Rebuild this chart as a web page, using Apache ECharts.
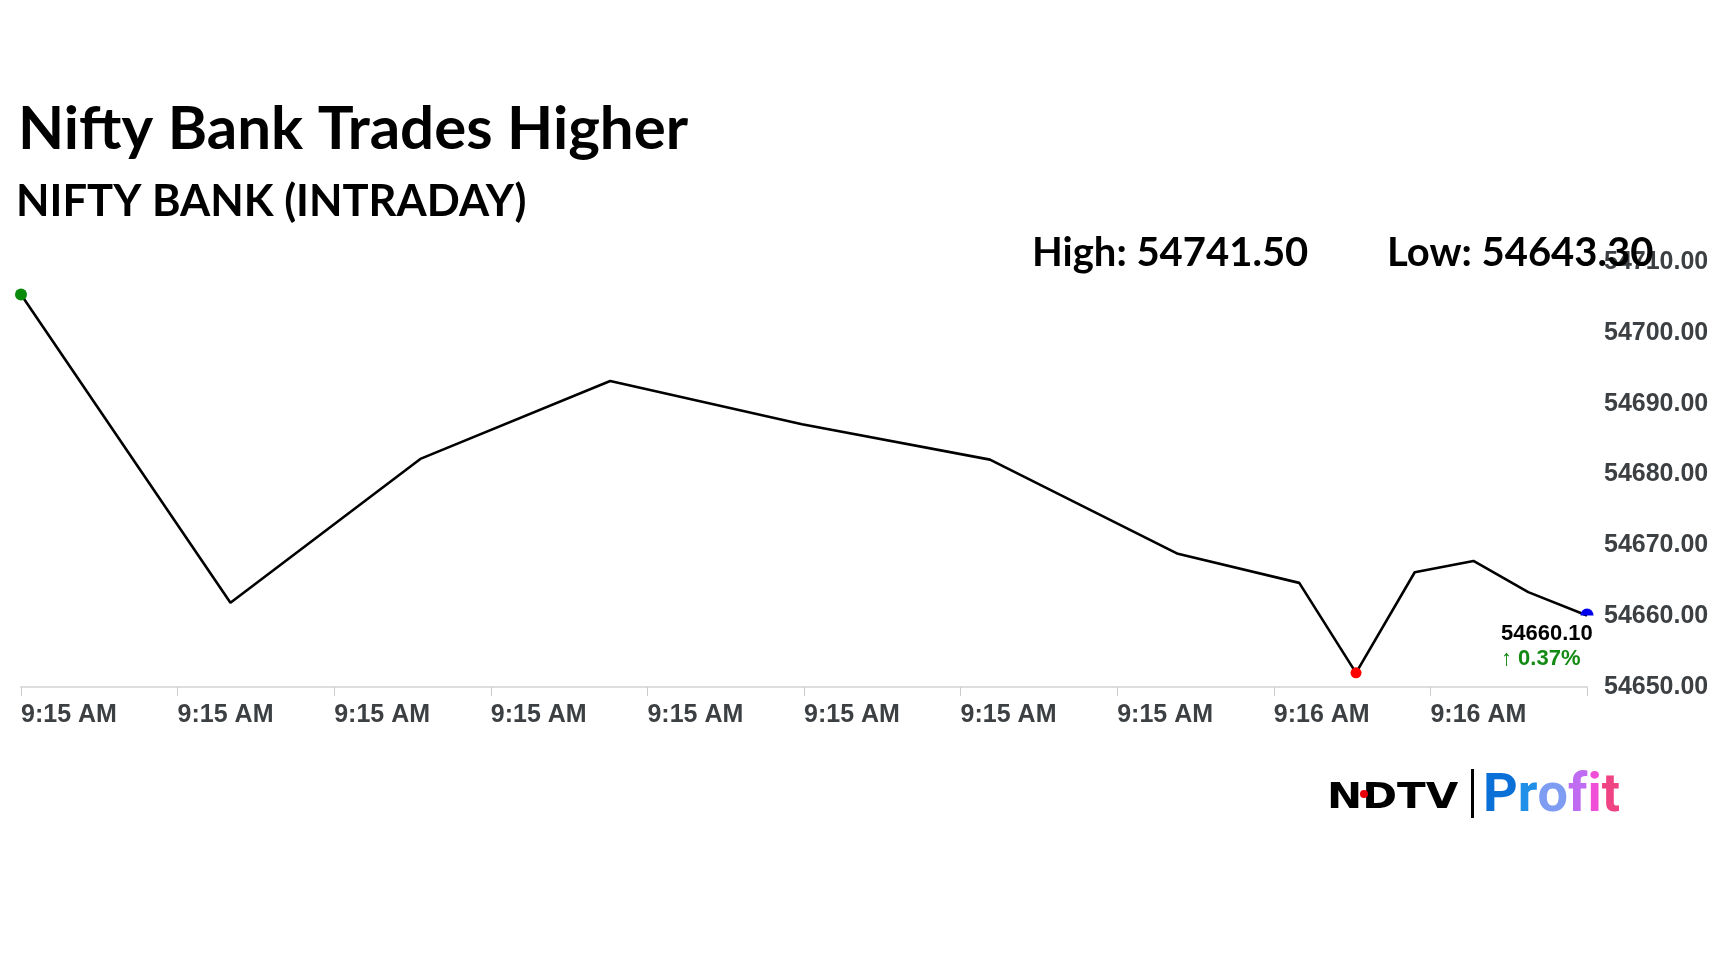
<!DOCTYPE html>
<html>
<head>
<meta charset="utf-8">
<script src="https://cdn.jsdelivr.net/npm/echarts@6/dist/echarts.min.js"></script>
<style>
html,body{margin:0;padding:0;background:#fff;}
#chart{width:1728px;height:972px;}
</style>
</head>
<body>
<div id="chart"></div>
<script>
// ---- data (seconds after 9:15:00, index level) ----
const times = [0, 10.7, 20.4, 30.1, 39.9, 49.5, 59.1, 65.3, 68.2, 71.2, 74.2, 77.0, 80];
const values = [54705.4, 54661.9, 54682.2, 54693.2, 54687.1, 54682.1, 54668.8, 54664.7, 54652.0, 54666.2, 54667.8, 54663.4, 54660.1];
const xTickLabels = ['9:15 AM','9:15 AM','9:15 AM','9:15 AM','9:15 AM','9:15 AM','9:15 AM','9:15 AM','9:16 AM','9:16 AM',''];
const yTicks = [54650, 54660, 54670, 54680, 54690, 54700, 54710];
const titleText = 'Nifty Bank Trades Higher';
const subtitleText = 'NIFTY BANK (INTRADAY)';
const highText = 'High: 54741.50';
const lowText = 'Low: 54643.30';
const lastPriceText = '54660.10';
const changeText = '\u2191 0.37%';
const logoLetters = ['P', 'r', 'o', 'f', 'i', 't'];
const logoColors = ['#0b6fd8', '#1f8fe8', '#7e9cf2', '#c06cf2', '#f04ed6', '#ef4383'];

const chart = echarts.init(document.getElementById('chart'));

let minIdx = 0;
values.forEach((v, i) => { if (v < values[minIdx]) minIdx = i; });
const lastIdx = values.length - 1;

const seriesData = times.map((t, i) => {
  const item = { value: [t, values[i]], symbol: 'none' };
  if (i === 0) {
    item.symbol = 'circle'; item.symbolSize = 12;
    item.itemStyle = { color: '#0a8a0a' };
  } else if (i === minIdx) {
    item.symbol = 'circle'; item.symbolSize = 11;
    item.itemStyle = { color: '#ff0000' };
  } else if (i === lastIdx) {
    item.symbol = 'path://M0,10 A10,10 0 0 1 20,10 Z';
    item.symbolSize = [13, 7];
    item.symbolOffset = [0, '-50%'];
    item.itemStyle = { color: '#0000ee' };
    item.label = {
      show: true,
      position: 'bottom',
      distance: 6,
      align: 'left',
      offset: [-86, 0],
      formatter: '{a|' + lastPriceText + '}\n{b|' + changeText + '}',
      rich: {
        a: { fontFamily: 'Liberation Sans, Arial, sans-serif', fontWeight: 'bold', fontSize: 22, color: '#000', lineHeight: 25 },
        b: { fontFamily: 'Liberation Sans, Arial, sans-serif', fontWeight: 'bold', fontSize: 22, color: '#138a13', lineHeight: 25 }
      }
    };
  }
  return item;
});

const axisFont = { fontFamily: 'Liberation Sans, Arial, sans-serif', fontWeight: 'bold', fontSize: 25, color: '#3c4043' };

const logoRich = {};
logoLetters.forEach((ch, i) => {
  logoRich['c' + i] = { fill: logoColors[i], fontFamily: 'Roboto', fontWeight: 'bold', fontSize: 54 };
});
const logoText = logoLetters.map((ch, i) => '{c' + i + '|' + ch + '}').join('');

const option = {
  backgroundColor: '#ffffff',
  animation: false,
  title: [
    { text: titleText, left: 13, top: 95,
      textStyle: { fontFamily: 'Lato', fontWeight: 'bold', fontSize: 60, color: '#000' } },
    { text: subtitleText, left: 11, top: 175,
      textStyle: { fontFamily: 'Lato', fontWeight: 'bold', fontSize: 43.5, color: '#000' } },
    { text: highText, left: 1027, top: 228,
      textStyle: { fontFamily: 'Lato', fontWeight: 'bold', fontSize: 40, color: '#000' } },
    { text: lowText, left: 1382, top: 228,
      textStyle: { fontFamily: 'Lato', fontWeight: 'bold', fontSize: 40, color: '#000' } }
  ],
  grid: { left: 21, right: 141, top: 262, bottom: 285, containLabel: false },
  xAxis: {
    type: 'value', min: 0, max: 80, interval: 8,
    axisLine: { show: true, lineStyle: { color: '#dddddd', width: 2 } },
    axisTick: { show: true, length: 9, lineStyle: { color: '#cccccc', width: 1 } },
    splitLine: { show: false },
    axisLabel: Object.assign({
      margin: 16, align: 'left', showMaxLabel: true,
      formatter: (v) => xTickLabels[Math.round(v / 8)] || ''
    }, axisFont)
  },
  yAxis: {
    type: 'value', position: 'right', min: yTicks[0], max: yTicks[yTicks.length - 1], interval: 10,
    axisLine: { show: false }, axisTick: { show: false }, splitLine: { show: false },
    axisLabel: Object.assign({ margin: 17, formatter: (v) => v.toFixed(2) }, axisFont)
  },
  series: [{
    type: 'line',
    data: seriesData,
    lineStyle: { color: '#000', width: 2.6 },
    showAllSymbol: true,
    z: 3
  }],
  graphic: [
    { type: 'text', x: 1327, y: 781, scaleX: 1.2, scaleY: 1.0,
      style: { text: 'NDTV', fontFamily: 'DejaVu Sans', fontWeight: 'bold', fontSize: 35, fill: '#000' } },
    { type: 'circle', shape: { cx: 1364, cy: 794, r: 4 }, style: { fill: '#e8000b' }, z: 10 },
    { type: 'rect', shape: { x: 1471, y: 769, width: 3, height: 49 }, style: { fill: '#000' } },
    { type: 'text', x: 1483, y: 770,
      style: { text: logoText, rich: logoRich, fontFamily: 'Roboto', fontWeight: 'bold', fontSize: 54 } }
  ]
};
chart.setOption(option);
</script>
</body>
</html>
